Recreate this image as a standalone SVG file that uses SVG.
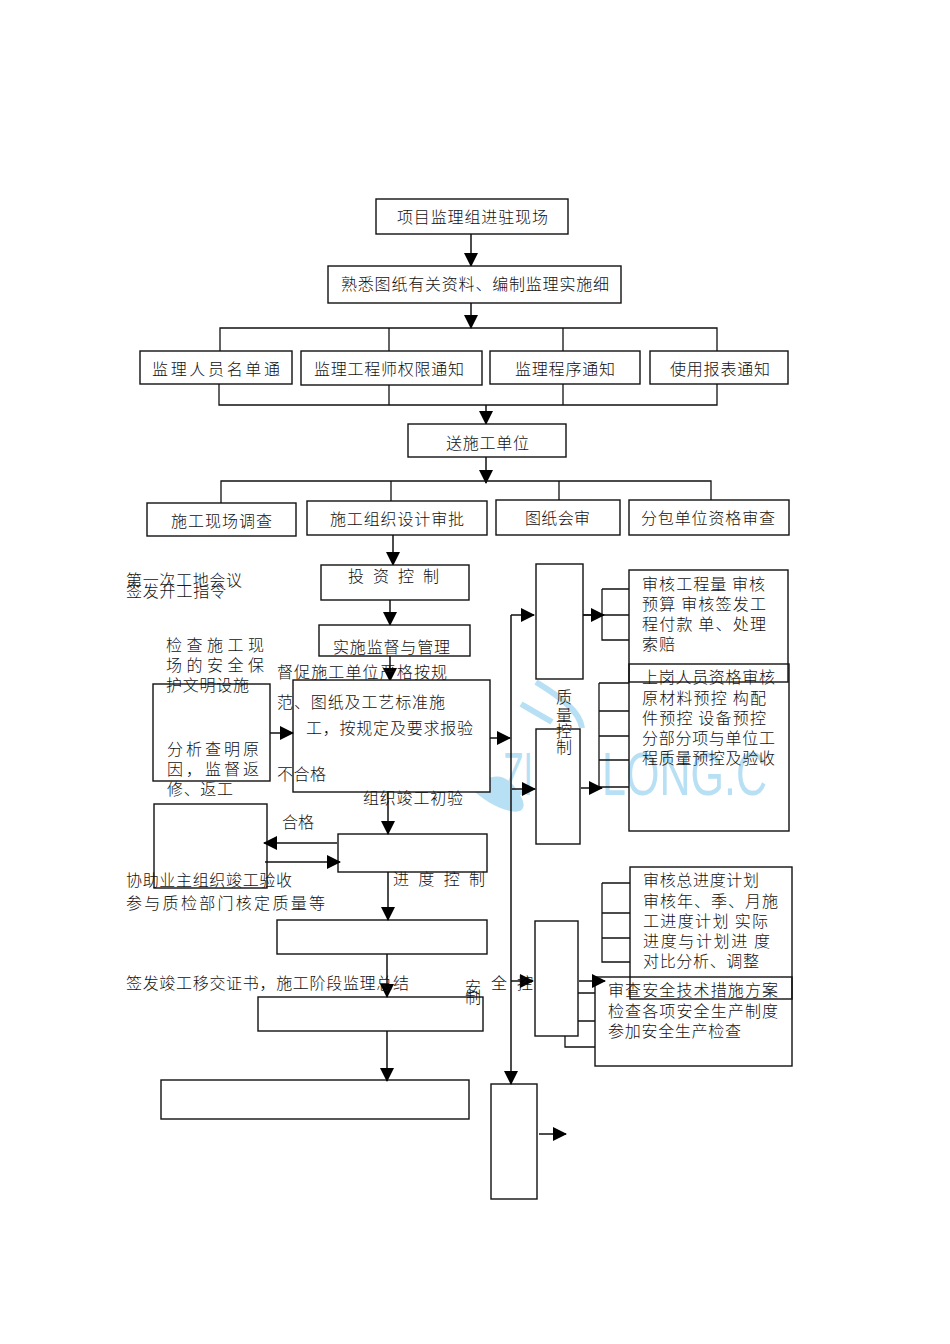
<svg xmlns="http://www.w3.org/2000/svg" width="950" height="1344" viewBox="0 0 950 1344">
<style>
text{font-family:"Noto Sans CJK SC","Noto Sans CJK JP",sans-serif;font-size:16px;font-weight:300;fill:#111}
.b{fill:#fff;stroke:#111;stroke-width:1.4}
.o{fill:none;stroke:#111;stroke-width:1.4}
.n{fill:none;stroke:#111;stroke-width:1.3}
.w{fill:#b8e0f4;font-family:"Liberation Sans",sans-serif;font-size:62px}
.a{fill:none;stroke:#111;stroke-width:1.5;marker-end:url(#m)}
</style>
<defs><marker id="m" markerUnits="userSpaceOnUse" markerWidth="14" markerHeight="14" refX="13" refY="7" orient="auto"><path d="M0 0L14 7L0 14Z" fill="#000"/></marker></defs>
<rect width="950" height="1344" fill="#fff"/>
<g id="watermark">
<path d="M536 682C562 698 580 712 582 728" fill="none" stroke="#b8e0f4" stroke-width="6"/>
<path d="M521 704L552 722" fill="none" stroke="#b8e0f4" stroke-width="6"/>
<path d="M470 788C490 775 505 768 520 795C528 808 522 814 510 811C495 808 482 798 470 788Z" fill="#b8e0f4"/>
<text class="w" x="503" y="795" textLength="30" lengthAdjust="spacingAndGlyphs">ZI</text>
<text class="w" x="602" y="795" textLength="165" lengthAdjust="spacingAndGlyphs">LONG.C</text>
</g>
<g id="connectors">
<path class="a" d="M471 234V266"/><path class="a" d="M471 303V328"/>
<path class="n" d="M220 351V328H717V351M389 328V351M563 328V351"/>
<path class="n" d="M219 384V405H717V384M389 385V405M563 384V405"/>
<path class="a" d="M486 405V424"/><path class="a" d="M486 457V483"/>
<path class="n" d="M221 503V481H711V500M391 481V501M559 481V500"/>
<path class="a" d="M393 535V565"/><path class="a" d="M390 600V625"/><path class="a" d="M390 656V681"/>
<path class="n" d="M602 589H629M602 589V640H629M583 615H629M599 683V787H629M599 683H629M599 711H629M599 736H629M599 760H629"/>
<path class="n" d="M602 883V962H630M602 883H630M602 913H630M602 938H630"/>
<path class="n" d="M565 993V1047H595M565 993H595M565 1021H595"/>
</g>
<g id="n1"><rect class="b" x="376" y="199" width="192" height="35"/><text x="397" y="223" textLength="151">项目监理组进驻现场</text></g>
<g id="n2"><rect class="b" x="328" y="266" width="293" height="37"/><text x="341" y="290" textLength="268">熟悉图纸有关资料、编制监理实施细</text></g>
<g id="n3"><rect class="b" x="140" y="351" width="152" height="33"/><text x="152" y="375" textLength="128">监理人员名单通</text></g>
<g id="n4"><rect class="b" x="301" y="351" width="181" height="34"/><text x="314" y="375" textLength="150">监理工程师权限通知</text></g>
<g id="n5"><rect class="b" x="490" y="351" width="150" height="33"/><text x="515" y="375" textLength="100">监理程序通知</text></g>
<g id="n6"><rect class="b" x="650" y="351" width="138" height="33"/><text x="670" y="375" textLength="100">使用报表通知</text></g>
<g id="n7"><rect class="b" x="408" y="424" width="158" height="33"/><text x="446" y="449" textLength="83">送施工单位</text></g>
<g id="n8"><rect class="b" x="147" y="503" width="149" height="33"/><text x="171" y="527" textLength="101">施工现场调查</text></g>
<g id="n9"><rect class="b" x="307" y="501" width="180" height="34"/><text x="330" y="525" textLength="134">施工组织设计审批</text></g>
<g id="n10"><rect class="b" x="496" y="500" width="124" height="35"/><text x="525" y="524" textLength="65">图纸会审</text></g>
<g id="n11"><rect class="b" x="629" y="500" width="160" height="35"/><text x="641" y="524" textLength="134">分包单位资格审查</text></g>
<g id="n12"><rect class="b" x="321" y="565" width="148" height="35"/><text x="348" y="582" textLength="91">投资控制</text></g>
<g id="n13"><rect class="b" x="319" y="625" width="151" height="31"/><text x="333" y="653" textLength="117">实施监督与管理</text></g>
<g id="n14"><rect class="b" x="293" y="680" width="197" height="112"/></g>
<g id="n15"><rect class="b" x="153" y="684" width="117" height="97"/></g>
<g id="n16"><rect class="b" x="154" y="804" width="113" height="84"/></g>
<g id="n17"><rect class="b" x="338" y="834" width="149" height="38"/></g>
<g id="n18"><rect class="b" x="277" y="920" width="210" height="34"/></g>
<g id="n19"><rect class="b" x="258" y="997" width="225" height="34"/></g>
<g id="n20"><rect class="b" x="161" y="1080" width="308" height="39"/></g>
<g id="n21"><rect class="b" x="536" y="564" width="47" height="115"/></g>
<g id="n22"><rect class="b" x="536" y="729" width="44" height="115"/></g>
<g id="n23"><rect class="b" x="535" y="921" width="43" height="115"/></g>
<g id="n24"><rect class="b" x="491" y="1084" width="46" height="115"/></g>
<g id="n25"><rect class="o" x="629" y="570" width="159" height="112"/></g>
<g id="n26"><rect class="o" x="629" y="664" width="160" height="167"/></g>
<g id="n27"><rect class="o" x="630" y="867" width="162" height="132"/></g>
<g id="n28"><rect class="o" x="595" y="977" width="197" height="89"/></g>
<g id="arrows">
<path class="a" d="M270 733H293"/><path class="a" d="M490 738H510"/>
<path class="a" d="M388 792V834"/><path class="a" d="M337 843H264"/><path class="a" d="M265 862H340"/>
<path class="a" d="M388 872V920"/><path class="a" d="M387 954V997"/><path class="a" d="M387 1031V1081"/>
<path class="a" d="M511 615V1084"/><path class="a" d="M511 615H534"/><path class="a" d="M512 789H535"/><path class="a" d="M511 981H533"/>
<path class="a" d="M583 615H604"/><path class="a" d="M581 788H602"/><path class="a" d="M579 981H605"/><path class="a" d="M539 1134H566"/>
</g>
<g id="labels">
<text x="126" y="586" textLength="116">第一次工地会议</text>
<text x="126" y="597" textLength="100">签发开工指令</text>
<text x="166" y="651" textLength="98">检查施工现</text>
<text x="166" y="671" textLength="98">场的安全保</text>
<text x="166" y="691" textLength="83">护文明设施</text>
<text x="277" y="678" textLength="170">督促施工单位严格按规</text>
<text x="277" y="708" textLength="168">范、图纸及工艺标准施</text>
<text x="306" y="734" textLength="167">工，按规定及要求报验</text>
<text x="167" y="755" textLength="92">分析查明原</text>
<text x="167" y="775" textLength="92">因，监督返</text>
<text x="167" y="795" textLength="66">修、返工</text>
<text x="277" y="780" textLength="49">不合格</text>
<text x="363" y="804" textLength="100">组织竣工初验</text>
<text x="282" y="828" textLength="32">合格</text>
<text x="393" y="885" textLength="92">进度控制</text>
<text x="126" y="886" textLength="166">协助业主组织竣工验收</text>
<text x="126" y="909" textLength="199">参与质检部门核定质量等</text>
<text x="126" y="989" textLength="283">签发竣工移交证书，施工阶段监理总结</text>
<text x="556" y="703">质</text><text x="556" y="721">量</text><text x="556" y="737">控</text><text x="556" y="753">制</text>
<text x="465" y="993">安</text><text x="465" y="1003">制</text>
<text x="491" y="989" textLength="42">全控</text>
<text x="642" y="590" textLength="123">审核工程量 审核</text>
<text x="642" y="610" textLength="124">预算 审核签发工</text>
<text x="642" y="630" textLength="124">程付款 单、处理</text>
<text x="642" y="650" textLength="33">索赔</text>
<text x="642" y="683" textLength="133">上岗人员资格审核</text>
<text x="642" y="704" textLength="124">原材料预控 构配</text>
<text x="642" y="724" textLength="124">件预控 设备预控</text>
<text x="642" y="744" textLength="133">分部分项与单位工</text>
<text x="642" y="764" textLength="133">程质量预控及验收</text>
<text x="643" y="886" textLength="116">审核总进度计划</text>
<text x="643" y="907" textLength="135">审核年、季、月施</text>
<text x="643" y="927" textLength="125">工进度计划 实际</text>
<text x="643" y="947" textLength="127">进度与计划进 度</text>
<text x="643" y="967" textLength="116">对比分析、调整</text>
<text x="608" y="996" textLength="170">审查安全技术措施方案</text>
<text x="608" y="1017" textLength="170">检查各项安全生产制度</text>
<text x="608" y="1037" textLength="133">参加安全生产检查</text>
</g>
</svg>
